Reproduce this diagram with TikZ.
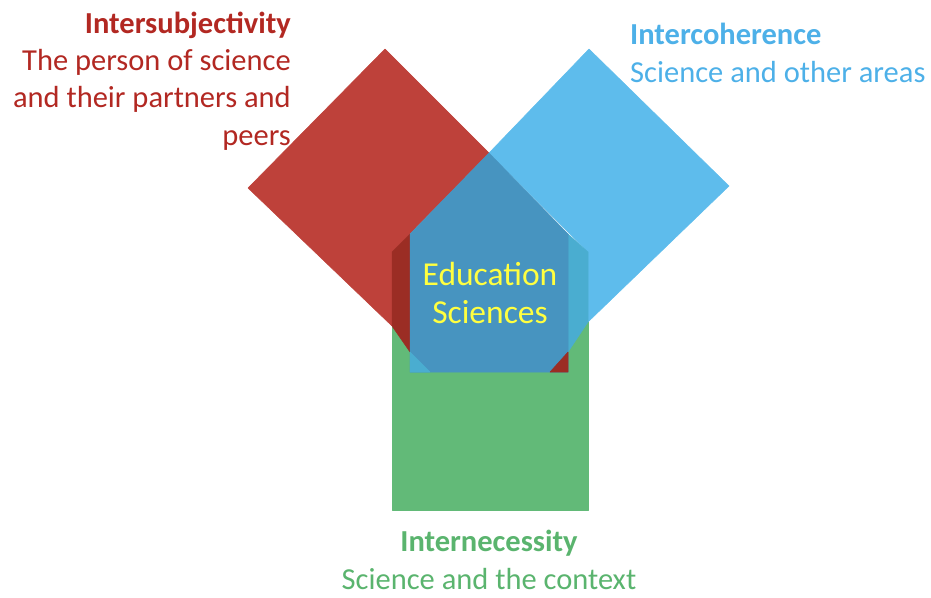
\documentclass[tikz,border=0pt]{standalone}
\usepackage{fontspec}
\setmainfont{Carlito}
\usepackage{tikz}
\usetikzlibrary{positioning}

\definecolor{subjred}{RGB}{190,65,58}
\definecolor{subjtext}{RGB}{178,40,34}
\definecolor{cohblue}{RGB}{94,188,236}
\definecolor{cohtext}{RGB}{77,176,232}
\definecolor{necgreen}{RGB}{98,186,120}
\definecolor{nectext}{RGB}{90,180,110}
\definecolor{edublue}{RGB}{71,148,192}
\definecolor{deepred}{RGB}{155,45,36}
\definecolor{deepteal}{RGB}{74,173,208}
\definecolor{eduyellow}{RGB}{255,255,64}

\begin{document}
\begin{tikzpicture}[x=1pt, y=-1pt]
% -------------------------------------------------
\tikzset{
  patch/.style={line width=0.5pt, line join=round},
  tag/.style={inner sep=0pt, font=\fontsize{30.5}{37.3}\selectfont},
  coretxt/.style={inner sep=0pt, align=center, text=eduyellow,
    font=\fontsize{33.5}{38}\selectfont}
}
% -------------------------------------------------
\useasboundingbox (0,0) rectangle (931,597);

% corners of the pieces
\coordinate (rtop)   at (385,49);
\coordinate (rleft)  at (248,188);
\coordinate (rlow)   at (392,326);
\coordinate (btop)   at (589,49);
\coordinate (bright) at (729,186);
\coordinate (blow)   at (588,322);
\coordinate (apex)   at (489,153);
\coordinate (g1)     at (392,252);
\coordinate (g2)     at (588,252);
\coordinate (p1)     at (410,234);
\coordinate (p2)     at (568,234);
\coordinate (pb1)    at (410,372);
\coordinate (pb2)    at (568,372);
\coordinate (rcut)   at (410,352);
\coordinate (rfoot)  at (430,372);
\coordinate (bcut)   at (568,352);
\coordinate (bfoot)  at (550,372);

% the three fields
\filldraw[patch, necgreen] (392,252) rectangle (588,510);
\filldraw[patch, subjred] (rtop) -- (rleft) -- (rlow) -- (g1) -- (apex) -- cycle;
\filldraw[patch, cohblue] (btop) -- (bright) -- (blow) -- (g2) -- (apex) -- cycle;

% where they overlap
\filldraw[patch, deepred] (g1) -- (p1) -- (rcut) -- (rlow) -- cycle;
\filldraw[patch, deepteal] (g2) -- (p2) -- (bcut) -- (blow) -- cycle;
\filldraw[patch, edublue] (apex) -- (p1) -- (pb1) -- (pb2) -- (p2) -- cycle;
\filldraw[patch, deepteal] (rcut) -- (pb1) -- (rfoot) -- cycle;
\filldraw[patch, deepred] (bcut) -- (pb2) -- (bfoot) -- cycle;

% texts (base = last line)
\node[coretxt, anchor=base] (edu) at (490,323) {Education\\Sciences};

\node[tag, text=subjtext, align=right, anchor=base east] (subj) at (291,145)
  {\textbf{Intersubjectivity}\\The person of science\\and their partners and\\peers};
\node[tag, text=cohtext, align=left, anchor=base west] (coh) at (630,82)
  {\textbf{Intercoherence}\\Science and other areas};
\node[tag, text=nectext, align=center, anchor=base] (nec) at (489,589)
  {\textbf{Internecessity}\\Science and the context};

\end{tikzpicture}
\end{document}
